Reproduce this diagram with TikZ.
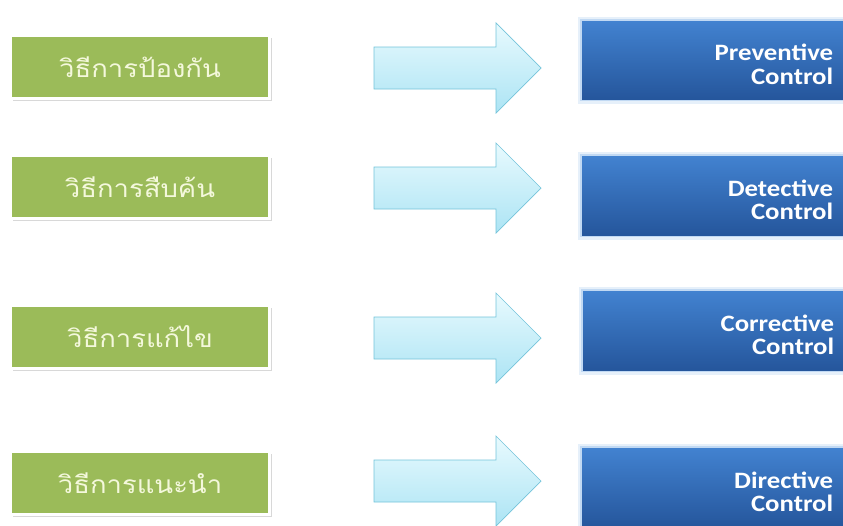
\documentclass[tikz,border=0pt]{standalone}
\usepackage{fontspec}
\setmainfont{Carlito}
\newfontfamily\ctrlfont[FakeStretch=1.14]{Carlito}
\newfontfamily\thaifont[Script=Thai,FakeStretch=1.12]{Loma}
\usetikzlibrary{shadows}

\definecolor{leafgreen}{HTML}{9BBB59}
\definecolor{paletext}{HTML}{F4F8DC}
\definecolor{skytop}{HTML}{E8FAFE}
\definecolor{skybottom}{HTML}{ACE4F4}
\definecolor{skyline}{HTML}{74C4DA}
\definecolor{ctrltop}{HTML}{4282D0}
\definecolor{ctrlbottom}{HTML}{25569C}
\definecolor{ctrlhalo}{HTML}{9CC3EC}

\tikzset{
  thaibox/.style={rectangle, fill=leafgreen, draw=white, line width=3pt,
    minimum width=259pt, minimum height=63pt, inner sep=0pt, text=paletext,
    font=\thaifont\fontsize{24.5}{28}\selectfont,
    drop shadow={shadow xshift=2.5pt, shadow yshift=-2.5pt, fill=black!30}},
  ctrlbox/.style={rectangle, top color=ctrltop, bottom color=ctrlbottom,
    preaction={draw=ctrlhalo, line width=9pt, opacity=0.25},
    preaction={draw=ctrlhalo, line width=4pt, opacity=0.5},
    minimum width=281pt, inner xsep=30pt, text width=221pt, align=right,
    text height=25pt,
    text=white, font=\ctrlfont\bfseries\fontsize{23.5}{23.5}\selectfont, anchor=north west},
  bluearrow/.style={top color=skytop, bottom color=skybottom, draw=skyline, line width=0.7pt}
}

\newcommand\rowarrow[2]{%
  \coordinate (#1) at (374,#2);
  \shade[bluearrow] (#1) ++(0,-21) -- ++(122,0) -- ++(0,-24) -- ++(45,45)
    -- ++(-45,45) -- ++(0,-24) -- ++(-122,0) -- cycle;}

\begin{document}
\begin{tikzpicture}[x=1pt,y=-1pt]
\useasboundingbox (0,0) rectangle (843,525);
\clip (0,0) rectangle (843,525);

\node[thaibox] (g1) at (140,67) {วิธีการป้องกัน};
\node[thaibox] (g2) at (140,187) {วิธีการสืบค้น};
\node[thaibox] (g3) at (140,337) {วิธีการแก้ไข};
\node[thaibox] (g4) at (140,483) {วิธีการแนะนำ};

\rowarrow{a1}{68}
\rowarrow{a2}{188}
\rowarrow{a3}{338}
\rowarrow{a4}{481}

\node[ctrlbox, minimum height=78pt] (c1) at (582,21) {Preventive\\Control};
\node[ctrlbox, minimum height=79pt] (c2) at (582,156) {Detective\\Control};
\node[ctrlbox, minimum height=79pt] (c3) at (583,291) {Corrective\\Control};
\node[ctrlbox, minimum height=79pt] (c4) at (582,448) {Directive\\Control};

\end{tikzpicture}
\end{document}
